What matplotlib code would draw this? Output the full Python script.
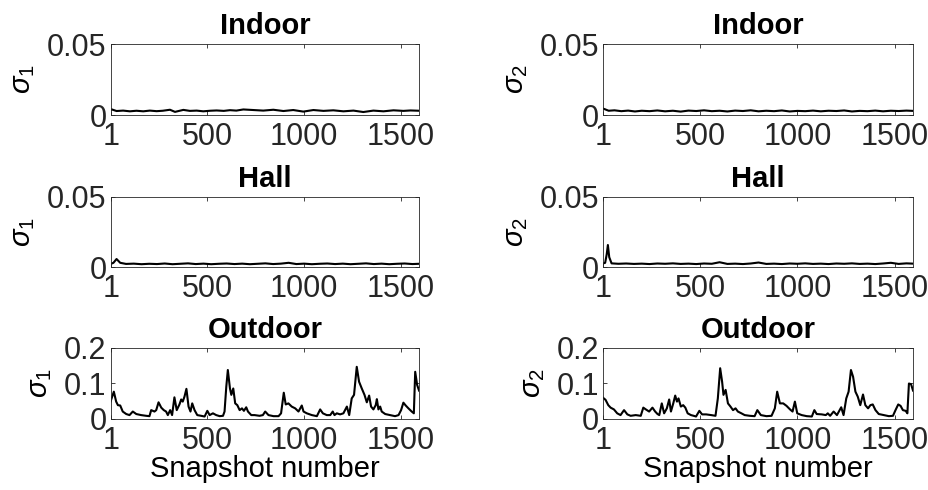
import matplotlib
matplotlib.use("Agg")
import matplotlib.pyplot as plt

plt.rcParams['font.family'] = ['Liberation Sans', 'DejaVu Sans']
plt.rcParams['mathtext.fontset'] = 'custom'
plt.rcParams['mathtext.rm'] = 'Liberation Sans'
plt.rcParams['mathtext.it'] = 'Liberation Sans:italic'

# ---- data (snapshot index, sigma value) ----
indoor1_x = [1, 5, 31, 65, 100, 134, 169, 203, 238, 270, 307, 333, 376, 410, 445, 479, 515, 548,
             585, 617, 650, 686, 738, 789, 841, 893, 944, 996, 1048, 1100, 1151, 1203, 1255,
             1306, 1358, 1410, 1462, 1513, 1550, 1594]
indoor1_y = [0.0035, 0.0040, 0.0028, 0.0031, 0.0026, 0.0030, 0.0026, 0.0031, 0.0027, 0.0030,
             0.0037, 0.0022, 0.0036, 0.0029, 0.0031, 0.0026, 0.0030, 0.0032, 0.0029, 0.0034,
             0.0031, 0.0039, 0.0035, 0.0031, 0.0037, 0.0028, 0.0035, 0.0024, 0.0035, 0.0029,
             0.0033, 0.0026, 0.0031, 0.0021, 0.0031, 0.0026, 0.0033, 0.0029, 0.0032, 0.0030]

indoor2_x = [1, 8, 30, 60, 95, 130, 165, 200, 240, 280, 320, 360, 400, 440, 480, 520, 560, 600,
             640, 680, 720, 760, 800, 840, 880, 920, 960, 1000, 1040, 1080, 1120, 1160, 1200,
             1240, 1280, 1320, 1360, 1400, 1440, 1480, 1520, 1560, 1594]
indoor2_y = [0.0045, 0.0042, 0.0030, 0.0033, 0.0027, 0.0031, 0.0025, 0.0030, 0.0027, 0.0032,
             0.0026, 0.0030, 0.0024, 0.0031, 0.0028, 0.0033, 0.0027, 0.0030, 0.0025, 0.0031,
             0.0028, 0.0033, 0.0026, 0.0030, 0.0027, 0.0032, 0.0025, 0.0029, 0.0027, 0.0031,
             0.0026, 0.0030, 0.0028, 0.0032, 0.0025, 0.0029, 0.0027, 0.0031, 0.0026, 0.0030,
             0.0028, 0.0031, 0.0029]

hall1_x = [1, 15, 31, 50, 80, 120, 160, 200, 240, 280, 320, 360, 400, 440, 480, 520, 560, 600,
           640, 680, 720, 760, 800, 840, 880, 920, 960, 1000, 1040, 1080, 1120, 1160, 1200,
           1240, 1280, 1320, 1360, 1400, 1440, 1480, 1520, 1560, 1594]
hall1_y = [0.0022, 0.0030, 0.0057, 0.0030, 0.0022, 0.0024, 0.0020, 0.0023, 0.0021, 0.0025,
           0.0020, 0.0023, 0.0026, 0.0021, 0.0024, 0.0020, 0.0023, 0.0025, 0.0021, 0.0024,
           0.0020, 0.0023, 0.0026, 0.0021, 0.0024, 0.0030, 0.0021, 0.0024, 0.0020, 0.0023,
           0.0025, 0.0021, 0.0024, 0.0020, 0.0023, 0.0026, 0.0021, 0.0024, 0.0020, 0.0023,
           0.0025, 0.0021, 0.0023]

hall2_x = [1, 12, 20, 26, 33, 45, 80, 120, 160, 200, 240, 280, 320, 360, 400, 440, 480, 520,
           560, 600, 640, 680, 720, 760, 800, 840, 880, 920, 960, 1000, 1040, 1080, 1120,
           1160, 1200, 1240, 1280, 1320, 1360, 1400, 1440, 1480, 1520, 1560, 1594]
hall2_y = [0.0025, 0.0030, 0.0090, 0.0157, 0.0070, 0.0026, 0.0023, 0.0025, 0.0022, 0.0024,
           0.0021, 0.0025, 0.0023, 0.0026, 0.0022, 0.0024, 0.0021, 0.0025, 0.0023, 0.0034,
           0.0022, 0.0024, 0.0021, 0.0025, 0.0032, 0.0022, 0.0024, 0.0021, 0.0025, 0.0023,
           0.0026, 0.0022, 0.0024, 0.0021, 0.0025, 0.0023, 0.0026, 0.0022, 0.0024, 0.0021,
           0.0025, 0.0030, 0.0022, 0.0026, 0.0024]

outdoor1_x = [1, 3, 17, 29, 38, 50, 63, 81, 98, 115, 133, 158, 184, 201, 210, 227, 236, 248,
              262, 275, 287, 296, 308, 318, 330, 342, 356, 365, 373, 382, 392, 403, 413, 422,
              434, 448, 468, 486, 500, 512, 529, 546, 564, 581, 589, 598, 606, 617, 624, 634,
              644, 655, 667, 679, 689, 701, 710, 727, 744, 770, 787, 799, 816, 842, 868, 881,
              895, 905, 919, 936, 954, 971, 988, 997, 1014, 1040, 1066, 1083, 1097, 1117, 1135,
              1148, 1157, 1169, 1186, 1203, 1221, 1233, 1246, 1258, 1272, 1284, 1298, 1312,
              1324, 1336, 1346, 1358, 1370, 1376, 1384, 1393, 1401, 1419, 1444, 1470, 1488,
              1501, 1513, 1525, 1539, 1556, 1567, 1574, 1584, 1594]
outdoor1_y = [0.050, 0.054, 0.077, 0.049, 0.039, 0.038, 0.021, 0.014, 0.011, 0.021, 0.014, 0.011,
              0.009, 0.008, 0.025, 0.021, 0.025, 0.047, 0.032, 0.025, 0.021, 0.011, 0.025, 0.011,
              0.061, 0.025, 0.041, 0.055, 0.049, 0.063, 0.085, 0.035, 0.021, 0.044, 0.025, 0.011,
              0.009, 0.007, 0.023, 0.011, 0.016, 0.011, 0.008, 0.009, 0.021, 0.091, 0.138, 0.086,
              0.068, 0.086, 0.044, 0.039, 0.025, 0.030, 0.023, 0.033, 0.021, 0.011, 0.011, 0.009,
              0.011, 0.021, 0.011, 0.008, 0.008, 0.016, 0.074, 0.041, 0.044, 0.035, 0.030, 0.021,
              0.038, 0.021, 0.016, 0.011, 0.008, 0.027, 0.016, 0.011, 0.011, 0.021, 0.011, 0.016,
              0.013, 0.016, 0.035, 0.011, 0.058, 0.068, 0.147, 0.105, 0.086, 0.068, 0.047, 0.066,
              0.035, 0.027, 0.039, 0.056, 0.027, 0.035, 0.021, 0.014, 0.011, 0.008, 0.011, 0.025,
              0.046, 0.038, 0.030, 0.021, 0.016, 0.133, 0.096, 0.080]

outdoor2_x = [1, 14, 28, 40, 57, 74, 91, 109, 126, 143, 169, 195, 208, 221, 238, 255, 269, 281,
              290, 303, 315, 329, 341, 350, 362, 372, 381, 389, 401, 413, 424, 436, 453, 467,
              479, 496, 510, 531, 557, 579, 591, 603, 613, 620, 631, 643, 656, 669, 682, 694,
              712, 729, 755, 780, 794, 812, 841, 867, 884, 896, 910, 927, 944, 962, 975, 987,
              999, 1022, 1048, 1074, 1087, 1099, 1125, 1146, 1156, 1168, 1186, 1203, 1225, 1237,
              1251, 1263, 1275, 1286, 1298, 1310, 1323, 1337, 1349, 1363, 1375, 1387, 1401, 1418,
              1444, 1470, 1491, 1504, 1518, 1530, 1542, 1556, 1565, 1573, 1584, 1594]
outdoor2_y = [0.060, 0.054, 0.039, 0.032, 0.027, 0.016, 0.011, 0.025, 0.013, 0.009, 0.011, 0.009,
              0.032, 0.027, 0.021, 0.032, 0.021, 0.014, 0.011, 0.044, 0.016, 0.030, 0.055, 0.021,
              0.044, 0.066, 0.049, 0.058, 0.035, 0.039, 0.032, 0.016, 0.011, 0.009, 0.007, 0.023,
              0.013, 0.013, 0.011, 0.009, 0.058, 0.143, 0.105, 0.068, 0.082, 0.044, 0.035, 0.025,
              0.030, 0.021, 0.016, 0.011, 0.009, 0.008, 0.025, 0.011, 0.008, 0.009, 0.030, 0.077,
              0.044, 0.044, 0.037, 0.027, 0.021, 0.049, 0.016, 0.011, 0.008, 0.007, 0.025, 0.014,
              0.013, 0.011, 0.016, 0.009, 0.021, 0.011, 0.033, 0.011, 0.058, 0.077, 0.138, 0.119,
              0.077, 0.063, 0.039, 0.069, 0.039, 0.030, 0.039, 0.041, 0.025, 0.014, 0.011, 0.008,
              0.009, 0.025, 0.041, 0.037, 0.025, 0.023, 0.016, 0.100, 0.098, 0.080]

titles = ["Indoor", "Hall", "Outdoor"]
xticks = [1, 500, 1000, 1500]
small_yticks = [0, 0.05]
small_ylabels = ["0", "0.05"]
big_yticks = [0, 0.1, 0.2]
big_ylabels = ["0", "0.1", "0.2"]

series = [[(indoor1_x, indoor1_y), (indoor2_x, indoor2_y)],
          [(hall1_x, hall1_y), (hall2_x, hall2_y)],
          [(outdoor1_x, outdoor1_y), (outdoor2_x, outdoor2_y)]]

fig = plt.figure(figsize=(9.29, 4.90), dpi=100)

col_left = [0.1192, 0.6491]
col_width = [0.3319, 0.3337]
row_bottom = [0.7653, 0.4551, 0.1449]
row_height = [0.1449, 0.1429, 0.1449]

tick_fs = 22
text_fs = 21
for r in range(3):
    for c in range(2):
        ax = fig.add_axes([col_left[c], row_bottom[r], col_width[c], row_height[r]])
        x, y = series[r][c]
        ax.plot(x, y, color='k', lw=1.5)
        ax.set_xlim(1, 1594)
        ax.set_xticks(xticks)
        ax.set_xticklabels([str(t) for t in xticks])
        if r < 2:
            ax.set_ylim(0, 0.05)
            ax.set_yticks(small_yticks)
            ax.set_yticklabels(small_ylabels)
        else:
            ax.set_ylim(0, 0.2)
            ax.set_yticks(big_yticks)
            ax.set_yticklabels(big_ylabels)
            ax.set_xlabel("Snapshot number", fontsize=text_fs, labelpad=-1)
        ax.set_title(titles[r], fontsize=text_fs, fontweight='bold', pad=7)
        ax.set_ylabel(r'$\sigma_%d$' % (c + 1), fontsize=text_fs, labelpad=7)
        ax.tick_params(direction='in', top=True, right=True, length=3, width=0.6,
                       labelsize=tick_fs, colors='#262626', labelcolor='#262626')
        ax.tick_params(axis='x', pad=5)
        ax.tick_params(axis='y', pad=3)
        for s in ax.spines.values():
            s.set_linewidth(0.6)
            s.set_color('#262626')

fig.savefig("out.png", dpi=100)
